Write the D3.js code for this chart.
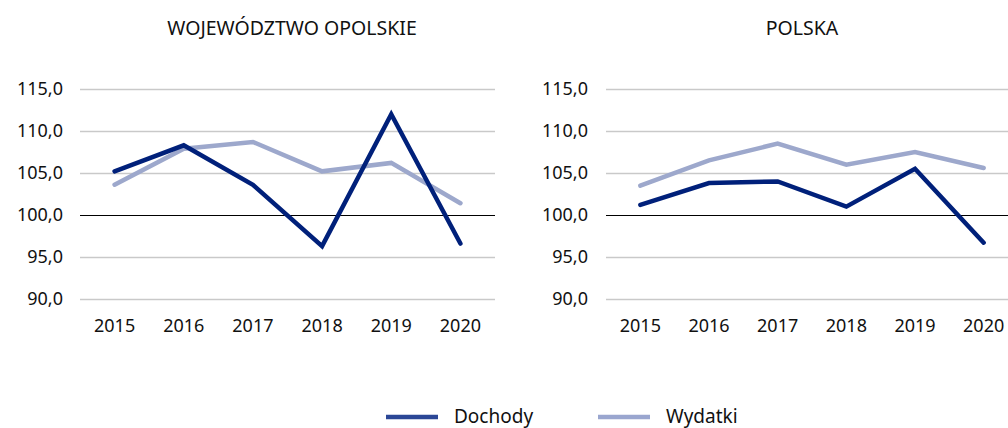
<!DOCTYPE html>
<html>
<head>
<meta charset="utf-8">
<script src="https://cdn.jsdelivr.net/npm/d3@7"></script>
<style>
  body { margin: 0; background: #fff; }
  svg { display: block; font-family: "Noto Sans", "Open Sans", sans-serif; }
</style>
</head>
<body>
<svg id="chart" width="1008" height="428"></svg>
<script>
"use strict";

var years = ["2015", "2016", "2017", "2018", "2019", "2020"];
var yTicks = [90, 95, 100, 105, 110, 115];

var opolskieDochody = [105.2, 108.3, 103.6, 96.3, 112.0, 96.6];
var opolskieWydatki = [103.6, 107.9, 108.7, 105.2, 106.2, 101.4];
var polskaDochody = [101.2, 103.8, 104.0, 101.0, 105.5, 96.7];
var polskaWydatki = [103.5, 106.5, 108.5, 106.0, 107.5, 105.6];

var seriesNames = ["Dochody", "Wydatki"];
var lineColors = ["#00207a", "#9da8cc"];
var legendColors = ["#2b4796", "#9aa6cf"];

var svg = d3.select("#chart");

var panels = [
    { title: "WOJEWÓDZTWO OPOLSKIE", x0: 80, x1: 495, labelX: 63, titleX: 292, series: [opolskieDochody, opolskieWydatki] },
    { title: "POLSKA", x0: 606, x1: 1018, labelX: 588, titleX: 802, series: [polskaDochody, polskaWydatki] }
];

var y = d3.scaleLinear().domain([90, 115]).range([299, 89]);

panels.forEach(function(p) {
    var g = svg.append("g");
    var x = d3.scaleBand().domain(years).range([p.x0, p.x1]);

    g.append("text")
        .attr("x", p.titleX).attr("y", 35)
        .attr("text-anchor", "middle")
        .attr("font-size", "19.5px")
        .attr("fill", "#111")
        .text(p.title);

    // gridlines
    g.selectAll("line.grid")
        .data(yTicks)
        .enter()
        .append("line")
          .attr("x1", p.x0).attr("x2", p.x1)
          .attr("y1", function(d) { return Math.round(y(d)) + 0.5; })
          .attr("y2", function(d) { return Math.round(y(d)) + 0.5; })
          .attr("stroke", function(d) { return d === 100 ? "#000" : "#c9c9c9"; })
          .attr("stroke-width", function(d) { return d === 100 ? 1 : 1.5; });

    var yAxis = d3.axisLeft(y).tickValues(yTicks).tickSize(0)
        .tickFormat(function(d) { return d3.format(".1f")(d).replace(".", ","); });
    var ya = g.append("g").attr("transform", "translate(" + (p.labelX) + ",0)").call(yAxis);
    ya.select(".domain").remove();
    ya.selectAll("text").attr("font-size", "18px").attr("fill", "#111")
        .attr("font-family", "\"Noto Sans\", sans-serif").attr("x", 0);

    var xAxis = d3.axisBottom(x).tickSize(0);
    var xa = g.append("g").attr("transform", "translate(0,315)").call(xAxis);
    xa.select(".domain").remove();
    xa.selectAll("text").attr("font-size", "18px").attr("fill", "#111")
        .attr("font-family", "\"Noto Sans\", sans-serif").attr("dy", "0.75em");

    var line = d3.line()
        .x(function(d, i) { return x(years[i]) + x.bandwidth() / 2; })
        .y(function(d) { return y(d); });

    // Wydatki drawn first, Dochody on top
    [1, 0].forEach(function(s) {
        g.append("path")
            .datum(p.series[s])
            .attr("d", line)
            .attr("fill", "none")
            .attr("stroke", lineColors[s])
            .attr("stroke-width", 4.5)
            .attr("stroke-linejoin", "miter")
            .attr("stroke-linecap", "round");
    });
});

// legend
var legendX = [386, 598];
seriesNames.forEach(function(name, i) {
    var lg = svg.append("g").attr("transform", "translate(" + legendX[i] + ",417)");
    lg.append("line").attr("x1", 0).attr("x2", 52).attr("y1", 0).attr("y2", 0)
        .attr("stroke", legendColors[i]).attr("stroke-width", 4.5);
    lg.append("text").attr("x", 68).attr("y", 6)
        .attr("font-size", "19px").attr("fill", "#111").text(name);
});
</script>
</body>
</html>
